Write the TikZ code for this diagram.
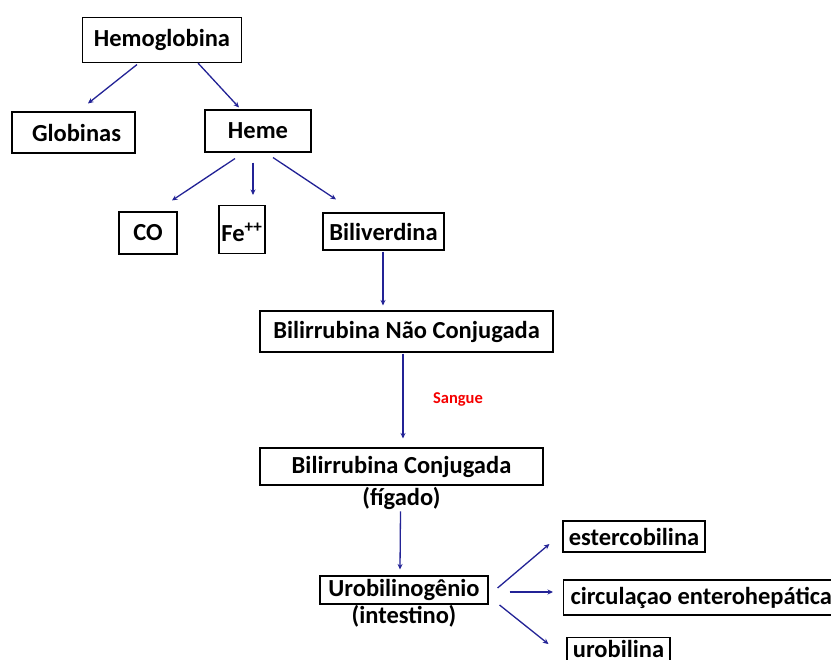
\documentclass[tikz,border=0pt]{standalone}
\usepackage{fontspec}
\setmainfont{Carlito}
\usepackage{tikz}
\usetikzlibrary{positioning}
\usetikzlibrary{calc}
\usetikzlibrary{arrows.meta}

\definecolor{setablue}{RGB}{35,35,150}
\definecolor{sanguered}{RGB}{245,0,0}

\tikzset{
  caixa/.style={draw, line width=1.1pt, inner sep=0pt, font=\bfseries\fontsize{24.5}{28}\selectfont},
  nota/.style={inner sep=0pt, font=\bfseries\fontsize{24.5}{28}\selectfont},
  seta/.style={draw=setablue, line width=1.3pt, -{Stealth[length=5.5pt,width=5pt]}}
}

\begin{document}
\begin{tikzpicture}[x=1pt,y=-1pt]
\useasboundingbox[fill=white] (0,0) rectangle (831,660);

\node[caixa, minimum width=159pt, minimum height=45pt] (hemo) at (162,40) {Hemoglobina};
\node[caixa, minimum width=123pt, minimum height=41pt] (glob) at (73.5,132.5) {\hspace{6pt}Globinas};
\node[caixa, minimum width=106pt, minimum height=42pt] (heme) at (258,131) {Heme};
\node[caixa, minimum width=58pt, minimum height=42pt] (co) at (148,233) {CO};
\node[caixa, minimum width=46pt, minimum height=48pt, text depth=0pt, text height=24pt] (fe) at (242,229.5) {Fe\textsuperscript{++}};
\node[caixa, minimum width=121pt, minimum height=37pt] (bili) at (383.5,231.5) {Biliverdina};
\node[caixa, minimum width=293pt, minimum height=41pt] (bnc) at (406.5,331.5) {Bilirrubina Não Conjugada};
\node[text=sanguered, font=\bfseries\fontsize{16.5}{19}\selectfont] (sangue) at (458,399) {Sangue};
\node[caixa, minimum width=283pt, minimum height=37pt] (bc) at (401.5,466.5) {Bilirrubina Conjugada};
\node[nota, below=2pt of bc] (fig) {(fígado)};
\node[caixa, minimum width=168pt, minimum height=28pt] (uro) at (404,590) {Urobilinogênio};
\node[nota, below=1pt of uro] (intest) {(intestino)};
\node[caixa, minimum width=142pt, minimum height=31pt] (ester) at (634,536.5) {estercobilina};
\node[caixa, minimum height=35pt, inner xsep=7pt, anchor=west] (circ) at (563,597.5) {circulaçao enterohepática};
\node[caixa, minimum width=103pt, inner ysep=3pt, text height=17pt, text depth=8pt, anchor=north] (urob) at (618.5,637) {urobilina};

\draw[seta] ($(hemo.south)+(-25,1.5)$) -- ($(glob.north)+(14.5,-8)$);
\draw[seta] ($(hemo.south)+(36,0)$) -- ($(heme.north)+(-19,-2)$);
\draw[seta] ($(heme.south)+(-23,6)$) -- ($(co.north)+(24,-11)$);
\draw[seta] ($(heme.south)+(-5,10)$) -- ($(fe.north)+(11,-10)$);
\draw[seta] ($(heme.south)+(15,5)$) -- ($(bili.north)+(-47.5,-13)$);
\draw[seta] ($(bili.south)+(-0.5,1)$) -- ($(bnc.north)+(-23.5,-5)$);
\draw[seta] ($(bnc.south)+(-3.5,1)$) -- ($(bc.north)+(1.5,-9)$);
\draw[seta] ($(fig.south)+(-1,1)$) -- ($(uro.north)+(-4,-6)$);
\draw[seta] ($(uro.east)+(9,-2)$) -- ($(ester.west)+(-13,7.5)$);
\draw[seta] ($(uro.east)+(21,2)$) -- ($(circ.west)+(-10,-5.5)$);
\draw[seta] ($(uro.east)+(11,15)$) -- ($(urob.west)+(-18,-9)$);
\end{tikzpicture}
\end{document}
